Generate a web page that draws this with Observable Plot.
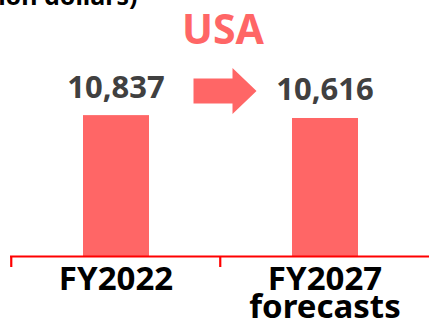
<!DOCTYPE html>
<html><head><meta charset="utf-8">
<script src="https://cdn.jsdelivr.net/npm/d3@7"></script>
<script src="https://cdn.jsdelivr.net/npm/@observablehq/plot@0.6"></script>
<style>body{margin:0;background:#fff;overflow:hidden} svg{display:block}</style>
</head><body><div id="chart"></div>
<script>
const categories = ["FY2022", "FY2027"];
const tickLabels = ["FY2022", "FY2027\nforecasts"];
const values = [10837, 10616];
const valueLabels = ["10,837", "10,616"];
const titleText = "USA";
const unitNote = "(Unit: million dollars)";

const data = categories.map((c, i) => ({cat: c, label: tickLabels[i], value: values[i], valueLabel: valueLabels[i]}));
const RED = "#ff6666";
const FONT = "'Noto Sans', sans-serif";

function blockArrow(index, scales, vals, dims) {
  const xs = scales.x, ys = scales.y;
  const cx = xs(categories[1]) + 5;
  const cy = (ys(values[0]) + ys(values[1])) / 2 - 25.5;
  const pts = [[-31.5,-12.5],[7.5,-12.5],[7.5,-23],[31.5,0],[7.5,23],[7.5,12.5],[-31.5,12.5]]
    .map(([dx, dy]) => `${cx+dx},${cy+dy}`).join(" ");
  const p = document.createElementNS("http://www.w3.org/2000/svg", "polygon");
  p.setAttribute("points", pts);
  p.setAttribute("fill", RED);
  return p;
}

const chart = Plot.plot({
  width: 429,
  height: 322,
  marginLeft: 10,
  marginRight: 0,
  marginTop: 100,
  marginBottom: 66,
  style: {fontFamily: FONT, background: "#fff", overflow: "visible"},
  x: {domain: categories, padding: 0, axis: null},
  y: {domain: [0, 12000], axis: null},
  marks: [
    Plot.barY(data, {x: "cat", y: "value", fill: RED, insetLeft: 72, insetRight: 71}),
    Plot.ruleY([0], {stroke: "#ff0000", strokeWidth: 2.2}),
    Plot.ruleX(data, {x: "cat", y1: 0, y2: 0, insetBottom: -11, dx: -104.75, stroke: "#ff0000", strokeWidth: 2.2}),
    Plot.text(data, {x: "cat", y: "value", text: "valueLabel", dy: -18, lineAnchor: "bottom", fontSize: 31, fontWeight: "bold", fill: "#404040"}),
    Plot.text(data, {x: "cat", y: 0, text: "label", dy: 13.5, lineAnchor: "top", fontSize: 33, fontWeight: "bold", fill: "#000", lineHeight: 0.85}),
    Plot.text([titleText], {frameAnchor: "top", text: d => d, dx: 3, dy: -57, lineAnchor: "bottom", fontSize: 41, fontWeight: "bold", fill: RED}),
    Plot.text([unitNote], {frameAnchor: "top-left", text: d => d, dx: 127, dy: -96, textAnchor: "end", lineAnchor: "bottom", fontSize: 25, fontWeight: "bold", fill: "#000"}),
    blockArrow
  ]
});
document.getElementById("chart").appendChild(chart);
</script>
</body></html>
